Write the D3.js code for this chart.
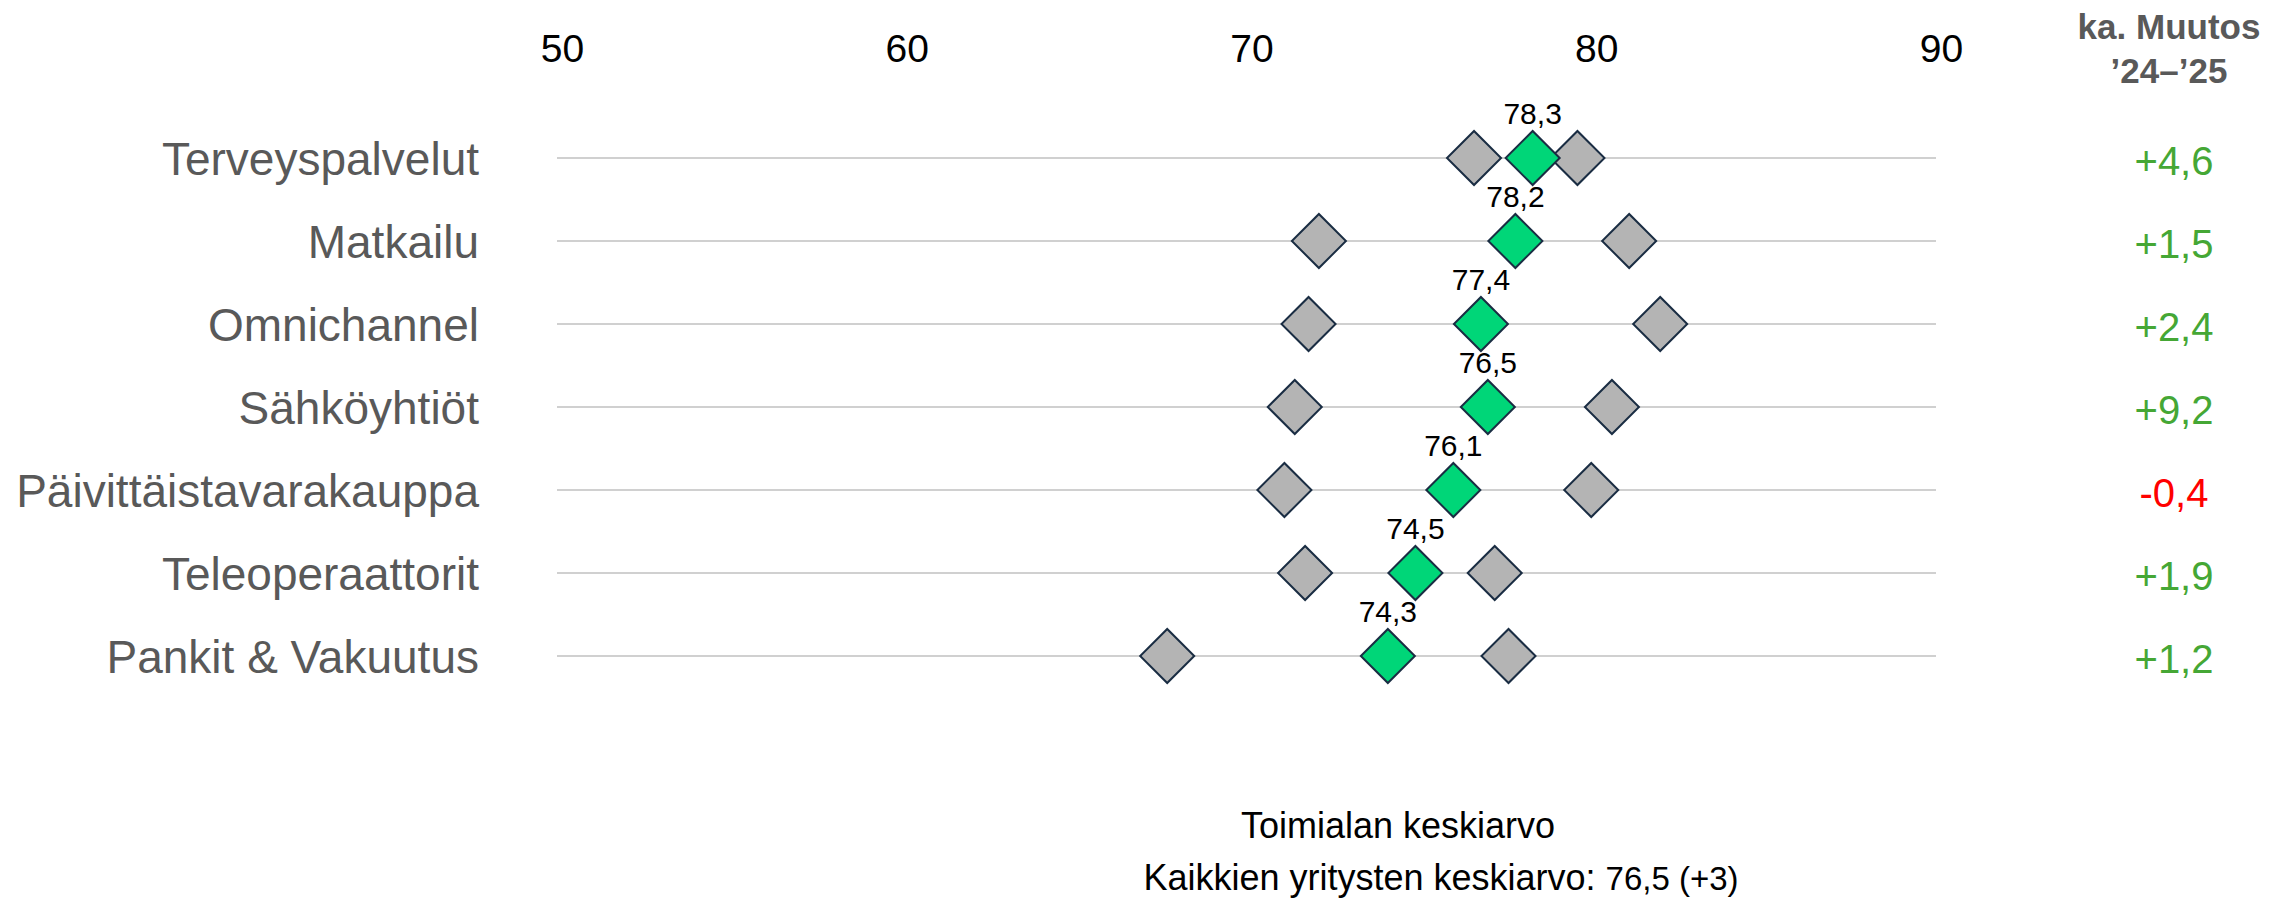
<!DOCTYPE html>
<html>
<head>
<meta charset="utf-8">
<script src="https://cdn.jsdelivr.net/npm/d3@7"></script>
<style>
  html, body { margin: 0; padding: 0; background: #ffffff; }
  svg { display: block; font-family: Arial, "Liberation Sans", sans-serif; }
</style>
</head>
<body>
<svg id="chart" width="2289" height="901"></svg>
<script>
// ---- data ----
const categories = ["Terveyspalvelut", "Matkailu", "Omnichannel", "Sähköyhtiöt", "Päivittäistavarakauppa", "Teleoperaattorit", "Pankit & Vakuutus"];
const lowValues = [76.6, 72.1, 71.8, 71.4, 71.1, 71.7, 67.7];
const avgValues = [78.3, 77.8, 76.8, 77.0, 76.0, 74.9, 74.1];
const highValues = [79.6, 81.1, 82.0, 80.6, 80.0, 77.2, 77.6];
const avgLabels = ["78,3", "78,2", "77,4", "76,5", "76,1", "74,5", "74,3"];
const changes = [4.6, 1.5, 2.4, 9.2, -0.4, 1.9, 1.2];
const tickValues = [50, 60, 70, 80, 90];
const headerLines = ["ka. Muutos", "’24–’25"];
const footerLine1 = "Toimialan keskiarvo";
const footerLine2Main = "Kaikkien yritysten keskiarvo: ";
const footerLine2Value = "76,5 (+3)";

// ---- chart ----
const svg = d3.select("#chart");
const x = d3.scaleLinear().domain([50, 90]).range([557, 1936]);
const y = d3.scalePoint().domain(categories).range([158, 656]);

const fmt = v => (v > 0 ? "+" : v < 0 ? "-" : "") + Math.abs(v).toFixed(1).replace(".", ",");

// gridlines
svg.append("g").selectAll("line").data(categories).join("line")
  .attr("x1", x(50)).attr("x2", x(90))
  .attr("y1", d => y(d)).attr("y2", d => y(d))
  .attr("stroke", "#d0d0d0").attr("stroke-width", 2);

// top axis
const axis = d3.axisTop(x).tickValues(tickValues).tickSize(0).tickPadding(0).tickFormat(d3.format("d"));
const ag = svg.append("g").attr("transform", "translate(5,62)").call(axis);
ag.select(".domain").remove();
ag.selectAll("text").attr("font-size", 39).attr("fill", "#000").attr("font-family", "Arial, 'Liberation Sans', sans-serif").attr("dy", 0);

// category labels
svg.append("g").selectAll("text").data(categories).join("text")
  .attr("x", 479).attr("y", d => y(d) + 17)
  .attr("text-anchor", "end").attr("font-size", 46).attr("fill", "#595959")
  .text(d => d);

const diamond = d3.symbol().type(d3.symbolSquare).size(1460);

function drawDiamonds(vals, fill) {
  svg.append("g").selectAll("path").data(vals).join("path")
    .attr("d", diamond)
    .attr("transform", (d, i) => `translate(${x(d)},${y(categories[i])}) rotate(45)`)
    .attr("fill", fill).attr("stroke", "#1a2d43").attr("stroke-width", 2);
}
drawDiamonds(lowValues, "#b4b4b4");
drawDiamonds(highValues, "#b4b4b4");
drawDiamonds(avgValues, "#00d678");

// avg labels
svg.append("g").selectAll("text").data(avgValues).join("text")
  .attr("x", d => x(d)).attr("y", (d, i) => y(categories[i]) - 34)
  .attr("text-anchor", "middle").attr("font-size", 30).attr("fill", "#000")
  .text((d, i) => avgLabels[i]);

// header
svg.append("g").selectAll("text").data(headerLines).join("text")
  .attr("x", 2169).attr("y", (d, i) => 39 + i * 44)
  .attr("text-anchor", "middle").attr("font-size", 35).attr("font-weight", "bold").attr("fill", "#595959")
  .text(d => d);

// change values
svg.append("g").selectAll("text").data(changes).join("text")
  .attr("x", 2174).attr("y", (d, i) => y(categories[i]) + 17)
  .attr("text-anchor", "middle").attr("font-size", 40)
  .attr("fill", d => d < 0 ? "#ff0000" : "#45a735")
  .text(d => fmt(d));

// footer
svg.append("text").attr("x", 1398).attr("y", 838).attr("text-anchor", "middle")
  .attr("font-size", 36).attr("fill", "#000").text(footerLine1);
const f2 = svg.append("text").attr("x", 1441).attr("y", 890).attr("text-anchor", "middle")
  .attr("font-size", 36).attr("fill", "#000");
f2.append("tspan").text(footerLine2Main);
f2.append("tspan").attr("font-size", 33).text(footerLine2Value);
</script>
</body>
</html>
